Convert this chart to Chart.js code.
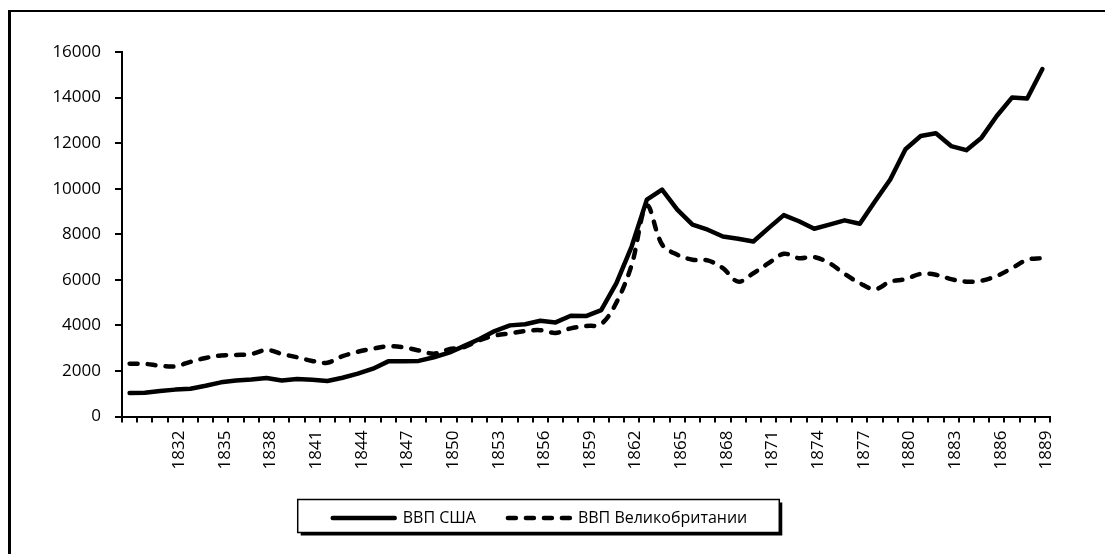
<!DOCTYPE html>
<html>
<head>
<meta charset="utf-8">
<script src="https://cdn.jsdelivr.net/npm/chart.js@4.4.0/dist/chart.umd.min.js"></script>
<style>
  html, body { margin: 0; padding: 0; background: #fff; }
  #wrap { position: relative; width: 1105px; height: 554px; overflow: hidden; }
  #frame {
    position: absolute; left: 8px; top: 10px; width: 1200px; height: 600px;
    border-left: 3px solid #000; border-top: 2px solid #000; pointer-events: none;
  }
</style>
</head>
<body>
<div id="wrap">
  <canvas id="gdpChart" width="1105" height="554"></canvas>
  <div id="frame"></div>
</div>
<script>
// Years on the x axis
const years = [
  '1829', '1830', '1831', '1832', '1833', '1834', '1835', '1836', '1837', '1838',
  '1839', '1840', '1841', '1842', '1843', '1844', '1845', '1846', '1847', '1848',
  '1849', '1850', '1851', '1852', '1853', '1854', '1855', '1856', '1857', '1858',
  '1859', '1860', '1861', '1862', '1863', '1864', '1865', '1866', '1867', '1868',
  '1869', '1870', '1871', '1872', '1873', '1874', '1875', '1876', '1877', '1878',
  '1879', '1880', '1881', '1882', '1883', '1884', '1885', '1886', '1887', '1888',
  '1889'
];

// Years that get a label under the axis
const shownYears = [
  '1832', '1835', '1838', '1841', '1844', '1847', '1850', '1853', '1856', '1859',
  '1862', '1865', '1868', '1871', '1874', '1877', '1880', '1883', '1886', '1889'
];

// GDP of the USA
const usGdp = [
  1030, 1040, 1120, 1180, 1220, 1350, 1500, 1580, 1620, 1690,
  1580, 1650, 1610, 1560, 1700, 1880, 2100, 2420, 2430, 2440,
  2600, 2800, 3100, 3400, 3750, 4000, 4050, 4200, 4130, 4420,
  4410, 4670, 5850, 7460, 9520, 9960, 9080, 8420, 8200, 7900,
  7800, 7680, 8270, 8840, 8570, 8240, 8420, 8610, 8460, 9450,
  10400, 11730, 12310, 12430, 11870, 11690, 12240, 13190, 14000, 13960,
  15250
];

// GDP of Great Britain
const ukGdp = [
  2320, 2310, 2230, 2200, 2400, 2570, 2680, 2700, 2740, 2920,
  2750, 2600, 2440, 2360, 2650, 2840, 2980, 3080, 3040, 2900,
  2760, 2950, 3050, 3350, 3550, 3650, 3750, 3790, 3670, 3870,
  3970, 4060, 5000, 6650, 9250, 7550, 7100, 6880, 6850, 6510,
  5920, 6290, 6730, 7140, 6950, 7000, 6730, 6260, 5850, 5590,
  5920, 6030, 6260, 6220, 6030, 5920, 5960, 6170, 6510, 6880,
  6950
];

// Y axis ticks
const yMin = 0;
const yMax = 16000;
const yStep = 2000;

Chart.defaults.font.family = '"Open Sans", "Noto Sans", sans-serif';
Chart.defaults.font.size = 17;
Chart.defaults.color = '#000';

// Box with a shadow behind the legend, like in Excel
const legendBox = {
  id: 'legendBox',
  beforeDraw(chart) {
    const boxes = chart.legend && chart.legend.legendHitBoxes;
    if (!boxes || !boxes.length) return;
    const first = boxes[0];
    const last = boxes[boxes.length - 1];
    const x0 = first.left - 35;
    const x1 = last.left + last.width + 32;
    const cy = first.top + first.height / 2;
    const y0 = cy - 18.5;
    const y1 = cy + 14.5;
    const c = chart.ctx;
    c.save();
    c.fillStyle = '#000';
    c.fillRect(x0 + 3, y0 + 3, x1 - x0, y1 - y0);
    c.fillStyle = '#fff';
    c.fillRect(x0, y0, x1 - x0, y1 - y0);
    c.strokeStyle = '#000';
    c.lineWidth = 1.5;
    c.strokeRect(x0, y0, x1 - x0, y1 - y0);
    c.restore();
  }
};

const ctx = document.getElementById('gdpChart').getContext('2d');

const gdpChart = new Chart(ctx, {
  type: 'line',
  data: {
    labels: years,
    datasets: [
      {
        label: 'ВВП США',
        data: usGdp,
        borderColor: '#000',
        borderWidth: 4.5,
        borderJoinStyle: 'round',
        borderCapStyle: 'round',
        pointRadius: 0,
        tension: 0,
        fill: false
      },
      {
        label: 'ВВП Великобритании',
        data: ukGdp,
        borderColor: '#000',
        borderWidth: 4.5,
        borderDash: [8, 10],
        borderJoinStyle: 'round',
        borderCapStyle: 'round',
        pointRadius: 0,
        tension: 0.35,
        fill: false
      }
    ]
  },
  options: {
    responsive: false,
    animation: false,
    devicePixelRatio: 1,
    layout: {
      padding: { left: 30, right: 55, top: 52, bottom: 18 }
    },
    plugins: {
      legend: {
        display: true,
        position: 'bottom',
        labels: {
          usePointStyle: true,
          pointStyle: 'line',
          pointStyleWidth: 62,
          padding: 32,
          color: '#000',
          font: { size: 16 },
          // the point-style legend drops the dash, so copy it from the dataset
          generateLabels(chart) {
            const items = Chart.defaults.plugins.legend.labels.generateLabels(chart);
            items.forEach((item, i) => {
              const ds = chart.data.datasets[i];
              item.lineDash = ds.borderDash || [];
              item.lineCap = ds.borderCapStyle;
              item.lineWidth = ds.borderWidth;
              item.strokeStyle = ds.borderColor;
            });
            return items;
          }
        }
      },
      tooltip: { enabled: false }
    },
    scales: {
      x: {
        offset: true,
        grid: {
          offset: true,
          drawOnChartArea: false,
          drawTicks: true,
          tickLength: 6,
          tickColor: '#000',
          lineWidth: 2
        },
        border: { color: '#000', width: 2 },
        ticks: {
          autoSkip: false,
          minRotation: 90,
          maxRotation: 90,
          padding: 8,
          labelOffset: 4,
          callback: function (value) {
            const y = this.getLabelForValue(value);
            return shownYears.includes(y) ? y : '';
          }
        },
        afterFit(scale) { scale.height = 61.5; }
      },
      y: {
        min: yMin,
        max: yMax,
        grid: {
          drawOnChartArea: false,
          drawTicks: true,
          tickLength: 7,
          tickColor: '#000',
          lineWidth: 2
        },
        border: { color: '#000', width: 2 },
        ticks: {
          stepSize: yStep,
          padding: 14,
          callback: (value) => String(value)
        },
        afterFit(scale) { scale.width = 92; }
      }
    }
  },
  plugins: [legendBox]
});
</script>
</body>
</html>
